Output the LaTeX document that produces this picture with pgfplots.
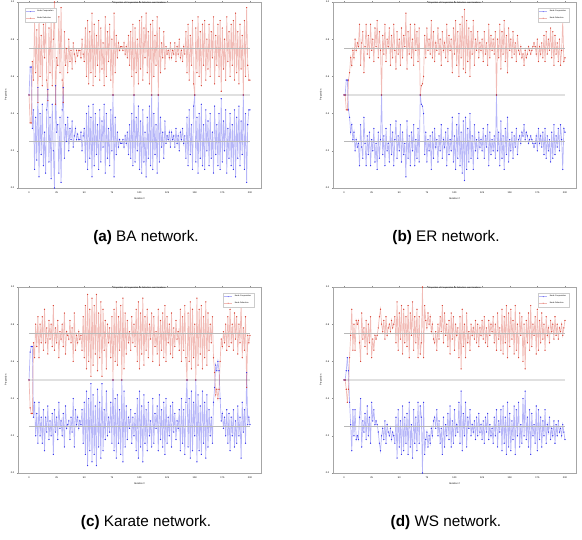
\documentclass[border=0pt]{standalone}
\usepackage{pgfplots}
\pgfplotsset{compat=1.18}
\usepackage{pgfplotstable}
\usepackage{fontspec}
\setmainfont{Liberation Sans}

\definecolor{coopblue}{RGB}{45,45,235}
\definecolor{defred}{RGB}{215,60,45}

% it  def(red)  coop(blue)
\pgfplotstableread{
it d c
0 0.50 0.50
1 0.35 0.65
2 0.35 0.65
3 0.68 0.32
4 0.58 0.42
5 0.90 0.10
6 0.62 0.38
7 0.85 0.15
8 0.46 0.54
9 0.94 0.06
10 0.60 0.40
11 0.82 0.18
12 0.55 0.45
13 0.88 0.12
14 0.70 0.30
15 0.92 0.08
16 0.58 0.42
17 0.47 0.53
18 0.86 0.14
19 0.62 0.38
20 0.95 0.05
21 0.55 0.45
22 0.80 0.20
23 1.00 0.00
24 0.45 0.55
25 0.70 0.30
26 0.66 0.34
27 0.92 0.08
28 0.62 0.38
29 0.97 0.03
30 0.58 0.42
31 0.46 0.54
32 0.84 0.16
33 0.66 0.34
34 0.75 0.25
35 0.62 0.38
36 0.80 0.20
37 0.68 0.32
38 0.74 0.26
39 0.64 0.36
40 0.78 0.22
41 0.72 0.28
42 0.68 0.32
43 0.74 0.26
44 0.71 0.29
45 0.74 0.26
46 0.74 0.26
47 0.70 0.30
48 0.80 0.20
49 0.72 0.28
50 0.68 0.32
51 0.86 0.14
52 0.60 0.40
53 0.90 0.10
54 0.56 0.44
55 0.84 0.16
56 0.62 0.38
57 0.94 0.06
58 0.55 0.45
59 0.88 0.12
60 0.60 0.40
61 0.82 0.18
62 0.66 0.34
63 0.90 0.10
64 0.58 0.42
65 0.86 0.14
66 0.64 0.36
67 0.78 0.22
68 0.55 0.45
69 0.92 0.08
70 0.60 0.40
71 0.84 0.16
72 0.68 0.32
73 0.88 0.12
74 0.58 0.42
75 0.80 0.20
76 0.50 0.50
77 0.94 0.06
78 0.62 0.38
79 0.82 0.18
80 0.70 0.30
81 0.78 0.22
82 0.74 0.26
83 0.76 0.24
84 0.76 0.24
85 0.74 0.26
86 0.78 0.22
87 0.72 0.28
88 0.76 0.24
89 0.70 0.30
90 0.82 0.18
91 0.66 0.34
92 0.84 0.16
93 0.60 0.40
94 0.88 0.12
95 0.50 0.50
96 0.86 0.14
97 0.62 0.38
98 0.80 0.20
99 0.56 0.44
100 0.90 0.10
101 0.64 0.36
102 0.92 0.08
103 0.58 0.42
104 0.86 0.14
105 0.70 0.30
106 0.94 0.06
107 0.62 0.38
108 0.84 0.16
109 0.56 0.44
110 0.88 0.12
111 0.50 0.50
112 0.90 0.10
113 0.60 0.40
114 0.82 0.18
115 0.66 0.34
116 0.92 0.08
117 0.50 0.50
118 0.86 0.14
119 0.62 0.38
120 0.78 0.22
121 0.70 0.30
122 0.84 0.16
123 0.64 0.36
124 0.76 0.24
125 0.72 0.28
126 0.74 0.26
127 0.70 0.30
128 0.78 0.22
129 0.70 0.30
130 0.74 0.26
131 0.72 0.28
132 0.78 0.22
133 0.68 0.32
134 0.76 0.24
135 0.72 0.28
136 0.80 0.20
137 0.70 0.30
138 0.74 0.26
139 0.68 0.32
140 0.76 0.24
141 0.72 0.28
142 0.84 0.16
143 0.62 0.38
144 0.88 0.12
145 0.58 0.42
146 0.82 0.18
147 0.66 0.34
148 0.90 0.10
149 0.56 0.44
150 0.50 0.50
151 0.86 0.14
152 0.62 0.38
153 0.92 0.08
154 0.60 0.40
155 0.84 0.16
156 0.55 0.45
157 0.88 0.12
158 0.66 0.34
159 0.90 0.10
160 0.58 0.42
161 0.80 0.20
162 0.64 0.36
163 0.88 0.12
164 0.60 0.40
165 0.84 0.16
166 0.70 0.30
167 0.92 0.08
168 0.56 0.44
169 0.82 0.18
170 0.66 0.34
171 0.88 0.12
172 0.60 0.40
173 0.90 0.10
174 0.52 0.48
175 0.86 0.14
176 0.64 0.36
177 0.80 0.20
178 0.58 0.42
179 0.92 0.08
180 0.68 0.32
181 0.84 0.16
182 0.60 0.40
183 0.88 0.12
184 0.66 0.34
185 0.90 0.10
186 0.58 0.42
187 0.94 0.06
188 0.62 0.38
189 0.84 0.16
190 0.56 0.44
191 0.88 0.12
192 0.64 0.36
193 0.82 0.18
194 0.50 0.50
195 0.90 0.10
196 0.60 0.40
197 0.97 0.03
198 0.66 0.34
199 0.58 0.42
200 0.58 0.42
}\tabBA

\pgfplotstableread{
it d c
0 0.50 0.50
1 0.50 0.50
2 0.42 0.58
3 0.42 0.58
4 0.58 0.42
5 0.62 0.38
6 0.70 0.30
7 0.66 0.34
8 0.74 0.26
9 0.70 0.30
10 0.80 0.20
11 0.74 0.26
12 0.78 0.22
13 0.76 0.24
14 0.88 0.12
15 0.66 0.34
16 0.78 0.22
17 0.84 0.16
18 0.62 0.38
19 0.76 0.24
20 0.88 0.12
21 0.72 0.28
22 0.82 0.18
23 0.70 0.30
24 0.88 0.12
25 0.74 0.26
26 0.80 0.20
27 0.68 0.32
28 0.86 0.14
29 0.76 0.24
30 0.90 0.10
31 0.70 0.30
32 0.84 0.16
33 0.74 0.26
34 0.50 0.50
35 0.82 0.18
36 0.72 0.28
37 0.88 0.12
38 0.68 0.32
39 0.80 0.20
40 0.76 0.24
41 0.86 0.14
42 0.66 0.34
43 0.82 0.18
44 0.70 0.30
45 0.88 0.12
46 0.74 0.26
47 0.64 0.36
48 0.84 0.16
49 0.72 0.28
50 0.80 0.20
51 0.66 0.34
52 0.86 0.14
53 0.70 0.30
54 0.82 0.18
55 0.76 0.24
56 0.94 0.06
57 0.64 0.36
58 0.84 0.16
59 0.72 0.28
60 0.88 0.12
61 0.70 0.30
62 0.80 0.20
63 0.66 0.34
64 0.88 0.12
65 0.74 0.26
66 0.84 0.16
67 0.68 0.32
68 0.86 0.14
69 0.50 0.50
70 0.55 0.45
71 0.56 0.44
72 0.60 0.40
73 0.82 0.18
74 0.70 0.30
75 0.86 0.14
76 0.74 0.26
77 0.80 0.20
78 0.72 0.28
79 0.90 0.10
80 0.70 0.30
81 0.84 0.16
82 0.68 0.32
83 0.78 0.22
84 0.74 0.26
85 0.86 0.14
86 0.72 0.28
87 0.80 0.20
88 0.66 0.34
89 0.84 0.16
90 0.74 0.26
91 0.78 0.22
92 0.70 0.30
93 0.88 0.12
94 0.68 0.32
95 0.82 0.18
96 0.74 0.26
97 0.80 0.20
98 0.62 0.38
99 0.86 0.14
100 0.72 0.28
101 0.90 0.10
102 0.66 0.34
103 0.84 0.16
104 0.60 0.40
105 0.88 0.12
106 0.70 0.30
107 0.92 0.08
108 0.64 0.36
109 0.96 0.04
110 0.62 0.38
111 0.90 0.10
112 0.68 0.32
113 0.86 0.14
114 0.60 0.40
115 0.84 0.16
116 0.72 0.28
117 0.90 0.10
118 0.66 0.34
119 0.80 0.20
120 0.74 0.26
121 0.84 0.16
122 0.70 0.30
123 0.78 0.22
124 0.74 0.26
125 0.80 0.20
126 0.68 0.32
127 0.84 0.16
128 0.72 0.28
129 0.78 0.22
130 0.66 0.34
131 0.88 0.12
132 0.70 0.30
133 0.82 0.18
134 0.74 0.26
135 0.80 0.20
136 0.72 0.28
137 0.84 0.16
138 0.50 0.50
139 0.80 0.20
140 0.70 0.30
141 0.88 0.12
142 0.64 0.36
143 0.84 0.16
144 0.72 0.28
145 0.90 0.10
146 0.68 0.32
147 0.82 0.18
148 0.62 0.38
149 0.86 0.14
150 0.74 0.26
151 0.80 0.20
152 0.70 0.30
153 0.84 0.16
154 0.72 0.28
155 0.78 0.22
156 0.68 0.32
157 0.82 0.18
158 0.74 0.26
159 0.72 0.28
160 0.76 0.24
161 0.70 0.30
162 0.72 0.28
163 0.66 0.34
164 0.74 0.26
165 0.70 0.30
166 0.72 0.28
167 0.76 0.24
168 0.74 0.26
169 0.72 0.28
170 0.74 0.26
171 0.76 0.24
172 0.78 0.22
173 0.76 0.24
174 0.72 0.28
175 0.80 0.20
176 0.68 0.32
177 0.76 0.24
178 0.72 0.28
179 0.78 0.22
180 0.70 0.30
181 0.82 0.18
182 0.68 0.32
183 0.84 0.16
184 0.72 0.28
185 0.80 0.20
186 0.74 0.26
187 0.86 0.14
188 0.70 0.30
189 0.84 0.16
190 0.66 0.34
191 0.82 0.18
192 0.72 0.28
193 0.78 0.22
194 0.68 0.32
195 0.80 0.20
196 0.66 0.34
197 0.74 0.26
198 0.90 0.10
199 0.68 0.32
200 0.70 0.30
}\tabER

\pgfplotstableread{
it d c
0 0.50 0.50
1 0.35 0.65
2 0.32 0.68
3 0.32 0.68
4 0.70 0.30
5 0.62 0.38
6 0.80 0.20
7 0.68 0.32
8 0.84 0.16
9 0.62 0.38
10 0.80 0.20
11 0.70 0.30
12 0.84 0.16
13 0.66 0.34
14 0.88 0.12
15 0.70 0.30
16 0.78 0.22
17 0.64 0.36
18 0.82 0.18
19 0.72 0.28
20 0.80 0.20
21 0.68 0.32
22 0.90 0.10
23 0.66 0.34
24 0.78 0.22
25 0.70 0.30
26 0.82 0.18
27 0.62 0.38
28 0.76 0.24
29 0.72 0.28
30 0.80 0.20
31 0.68 0.32
32 0.86 0.14
33 0.64 0.36
34 0.76 0.24
35 0.74 0.26
36 0.72 0.28
37 0.82 0.18
38 0.70 0.30
39 0.78 0.22
40 0.60 0.40
41 0.86 0.14
42 0.66 0.34
43 0.74 0.26
44 0.70 0.30
45 0.76 0.24
46 0.72 0.28
47 0.74 0.26
48 0.66 0.34
49 0.84 0.16
50 0.62 0.38
51 0.90 0.10
52 0.56 0.44
53 0.96 0.04
54 0.60 0.40
55 0.88 0.12
56 0.52 0.48
57 0.94 0.06
58 0.58 0.42
59 0.90 0.10
60 0.64 0.36
61 0.96 0.04
62 0.55 0.45
63 0.86 0.14
64 0.62 0.38
65 0.92 0.08
66 0.52 0.48
67 0.88 0.12
68 0.66 0.34
69 0.82 0.18
70 0.56 0.44
71 0.80 0.20
72 0.70 0.30
73 0.78 0.22
74 0.62 0.38
75 0.84 0.16
76 0.50 0.50
77 0.88 0.12
78 0.60 0.40
79 0.92 0.08
80 0.58 0.42
81 0.84 0.16
82 0.66 0.34
83 0.90 0.10
84 0.50 0.50
85 0.94 0.06
86 0.56 0.44
87 0.86 0.14
88 0.64 0.36
89 0.82 0.18
90 0.70 0.30
91 0.76 0.24
92 0.66 0.34
93 0.84 0.16
94 0.70 0.30
95 0.80 0.20
96 0.68 0.32
97 0.88 0.12
98 0.60 0.40
99 0.92 0.08
100 0.56 0.44
101 0.86 0.14
102 0.64 0.36
103 0.94 0.06
104 0.58 0.42
105 0.84 0.16
106 0.66 0.34
107 0.88 0.12
108 0.62 0.38
109 0.80 0.20
110 0.72 0.28
111 0.86 0.14
112 0.60 0.40
113 0.84 0.16
114 0.68 0.32
115 0.76 0.24
116 0.64 0.36
117 0.88 0.12
118 0.58 0.42
119 0.82 0.18
120 0.66 0.34
121 0.86 0.14
122 0.62 0.38
123 0.90 0.10
124 0.60 0.40
125 0.84 0.16
126 0.70 0.30
127 0.80 0.20
128 0.64 0.36
129 0.86 0.14
130 0.62 0.38
131 0.78 0.22
132 0.68 0.32
133 0.82 0.18
134 0.72 0.28
135 0.76 0.24
136 0.66 0.34
137 0.88 0.12
138 0.60 0.40
139 0.84 0.16
140 0.66 0.34
141 0.90 0.10
142 0.62 0.38
143 0.50 0.50
144 0.86 0.14
145 0.60 0.40
146 0.92 0.08
147 0.56 0.44
148 0.88 0.12
149 0.62 0.38
150 0.80 0.20
151 0.50 0.50
152 0.94 0.06
153 0.58 0.42
154 0.88 0.12
155 0.64 0.36
156 0.90 0.10
157 0.56 0.44
158 0.84 0.16
159 0.62 0.38
160 0.92 0.08
161 0.58 0.42
162 0.86 0.14
163 0.66 0.34
164 0.80 0.20
165 0.70 0.30
166 0.84 0.16
167 0.62 0.38
168 0.54 0.46
169 0.42 0.58
170 0.45 0.55
171 0.40 0.60
172 0.45 0.55
173 0.60 0.40
174 0.72 0.28
175 0.68 0.32
176 0.76 0.24
177 0.70 0.30
178 0.80 0.20
179 0.66 0.34
180 0.84 0.16
181 0.68 0.32
182 0.88 0.12
183 0.70 0.30
184 0.80 0.20
185 0.66 0.34
186 0.86 0.14
187 0.72 0.28
188 0.84 0.16
189 0.64 0.36
190 0.80 0.20
191 0.70 0.30
192 0.92 0.08
193 0.62 0.38
194 0.78 0.22
195 0.66 0.34
196 0.84 0.16
197 0.46 0.54
198 0.74 0.26
199 0.70 0.30
200 0.74 0.26
}\tabKarate

\pgfplotstableread{
it d c
0 0.50 0.50
1 0.50 0.50
2 0.45 0.55
3 0.38 0.62
4 0.45 0.55
5 0.62 0.38
6 0.74 0.26
7 0.88 0.12
8 0.66 0.34
9 0.80 0.20
10 0.66 0.34
11 0.82 0.18
12 0.80 0.20
13 0.82 0.18
14 0.70 0.30
15 0.60 0.40
16 0.86 0.14
17 0.72 0.28
18 0.78 0.22
19 0.68 0.32
20 0.82 0.18
21 0.64 0.36
22 0.80 0.20
23 0.70 0.30
24 0.84 0.16
25 0.62 0.38
26 0.72 0.28
27 0.66 0.34
28 0.74 0.26
29 0.72 0.28
30 0.74 0.26
31 0.78 0.22
32 0.84 0.16
33 0.88 0.12
34 0.80 0.20
35 0.76 0.24
36 0.82 0.18
37 0.72 0.28
38 0.84 0.16
39 0.74 0.26
40 0.78 0.22
41 0.80 0.20
42 0.76 0.24
43 0.82 0.18
44 0.78 0.22
45 0.80 0.20
46 0.84 0.16
47 0.70 0.30
48 0.92 0.08
49 0.66 0.34
50 0.86 0.14
51 0.72 0.28
52 0.90 0.10
53 0.64 0.36
54 0.88 0.12
55 0.70 0.30
56 0.84 0.16
57 0.68 0.32
58 0.90 0.10
59 0.62 0.38
60 0.86 0.14
61 0.74 0.26
62 0.92 0.08
63 0.66 0.34
64 0.84 0.16
65 0.70 0.30
66 0.88 0.12
67 0.62 0.38
68 0.84 0.16
69 0.64 0.36
70 0.70 0.30
71 1.00 0.00
72 0.62 0.38
73 0.90 0.10
74 0.82 0.18
75 0.78 0.22
76 0.86 0.14
77 0.80 0.20
78 0.84 0.16
79 0.76 0.24
80 0.80 0.20
81 0.72 0.28
82 0.70 0.30
83 0.76 0.24
84 0.66 0.34
85 0.80 0.20
86 0.72 0.28
87 0.84 0.16
88 0.76 0.24
89 0.90 0.10
90 0.70 0.30
91 0.86 0.14
92 0.74 0.26
93 0.80 0.20
94 0.68 0.32
95 0.82 0.18
96 0.64 0.36
97 0.86 0.14
98 0.72 0.28
99 0.84 0.16
100 0.66 0.34
101 0.80 0.20
102 0.74 0.26
103 0.78 0.22
104 0.62 0.38
105 0.84 0.16
106 0.56 0.44
107 0.88 0.12
108 0.68 0.32
109 0.80 0.20
110 0.62 0.38
111 0.86 0.14
112 0.70 0.30
113 0.76 0.24
114 0.66 0.34
115 0.80 0.20
116 0.74 0.26
117 0.78 0.22
118 0.72 0.28
119 0.82 0.18
120 0.70 0.30
121 0.80 0.20
122 0.68 0.32
123 0.78 0.22
124 0.74 0.26
125 0.82 0.18
126 0.72 0.28
127 0.84 0.16
128 0.70 0.30
129 0.78 0.22
130 0.68 0.32
131 0.82 0.18
132 0.74 0.26
133 0.80 0.20
134 0.76 0.24
135 0.84 0.16
136 0.70 0.30
137 0.80 0.20
138 0.66 0.34
139 0.86 0.14
140 0.72 0.28
141 0.78 0.22
142 0.66 0.34
143 0.88 0.12
144 0.64 0.36
145 0.84 0.16
146 0.70 0.30
147 0.90 0.10
148 0.62 0.38
149 0.86 0.14
150 0.68 0.32
151 0.88 0.12
152 0.72 0.28
153 0.82 0.18
154 0.64 0.36
155 0.90 0.10
156 0.66 0.34
157 0.80 0.20
158 0.62 0.38
159 0.86 0.14
160 0.74 0.26
161 0.84 0.16
162 0.60 0.40
163 0.80 0.20
164 0.56 0.44
165 0.82 0.18
166 0.70 0.30
167 0.86 0.14
168 0.66 0.34
169 0.90 0.10
170 0.68 0.32
171 0.80 0.20
172 0.74 0.26
173 0.84 0.16
174 0.64 0.36
175 0.88 0.12
176 0.66 0.34
177 0.82 0.18
178 0.70 0.30
179 0.86 0.14
180 0.72 0.28
181 0.80 0.20
182 0.66 0.34
183 0.84 0.16
184 0.74 0.26
185 0.78 0.22
186 0.70 0.30
187 0.82 0.18
188 0.76 0.24
189 0.80 0.20
190 0.72 0.28
191 0.84 0.16
192 0.74 0.26
193 0.80 0.20
194 0.72 0.28
195 0.78 0.22
196 0.76 0.24
197 0.80 0.20
198 0.74 0.26
199 0.78 0.22
200 0.82 0.18
}\tabWS

\pgfplotsset{
  panel/.style={
    scale only axis, width=243pt, height=186pt, anchor=south west,
    xmin=-10, xmax=210, ymin=0, ymax=1,
    xtick={0,25,...,200}, ytick={0,0.2,...,1},
    /pgf/number format/assume math mode=true,
    yticklabel style={/pgf/number format/fixed, /pgf/number format/precision=1, /pgf/number format/fixed zerofill},
    tick label style={font=\fontsize{2.4}{2.8}\selectfont},
    label style={font=\fontsize{2.4}{2.8}\selectfont},
    xlabel={Iteration \#}, ylabel={Proportion},
    xlabel style={yshift=3pt}, ylabel style={yshift=-3pt},
    axis line style={black!35, line width=0.3pt},
    tick style={black!45, line width=0.25pt},
    tick align=outside, major tick length=1.2pt,
    xticklabel style={yshift=1pt}, yticklabel style={xshift=1pt},
    legend style={font=\fontsize{2}{2.4}\selectfont, draw=black!20, line width=0.2pt,
      inner sep=0.6pt, row sep=-0.6pt, legend image post style={scale=0.5}},
    legend cell align=left,
  },
  coop/.style={color=coopblue, draw opacity=0.35, line width=0.7pt,
    mark=*, mark size=0.55pt,
    mark options={color=coopblue, draw opacity=0.9, fill opacity=0.9, line width=0.1pt}},
  def/.style={color=defred, draw opacity=0.35, line width=0.7pt,
    mark=*, mark size=0.55pt,
    mark options={color=defred, draw opacity=0.9, fill opacity=0.9, line width=0.1pt}},
  ref/.style={black!28, line width=0.4pt, forget plot},
  mid/.style={black!12, line width=1.8pt, forget plot},
}

\newcommand{\panel}[1]{%
  \addplot[mid] coordinates {(0,0.5) (200,0.5)};
  \addplot[coop] table[x=it, y=c] {#1};
  \addplot[def] table[x=it, y=d] {#1};
  \addplot[ref] coordinates {(0,0.75) (200,0.75)};
  \addplot[ref] coordinates {(0,0.25) (200,0.25)};
  \legend{Node Cooperation, Node Defection}%
  \node[font=\fontsize{2.2}{2.6}\selectfont, anchor=north, inner sep=0pt]
    at (axis description cs:0.5,1.004) {Proportion of Cooperation vs Defection over Iterations};
}

\begin{document}
\begin{tikzpicture}
\path[use as bounding box] (0,0) rectangle (582pt,540pt);

\begin{axis}[panel, at={(18pt,352pt)}, legend pos=north west]
\panel{\tabBA}
\end{axis}
\begin{axis}[panel, at={(333pt,352pt)}, legend pos=north east]
\panel{\tabER}
\end{axis}
\begin{axis}[panel, at={(18pt,67pt)}, legend pos=north east]
\panel{\tabKarate}
\end{axis}
\begin{axis}[panel, at={(333pt,67pt)}, legend pos=north east]
\panel{\tabWS}
\end{axis}

\node[font=\fontsize{15.3}{18}\selectfont] at (146pt,302pt) {\textbf{(a)} BA network.};
\node[font=\fontsize{15.3}{18}\selectfont] at (446pt,302pt) {\textbf{(b)} ER network.};
\node[font=\fontsize{15.3}{18}\selectfont] at (146pt,17pt) {\textbf{(c)} Karate network.};
\node[font=\fontsize{15.3}{18}\selectfont] at (446pt,17pt) {\textbf{(d)} WS network.};
\end{tikzpicture}
\end{document}
